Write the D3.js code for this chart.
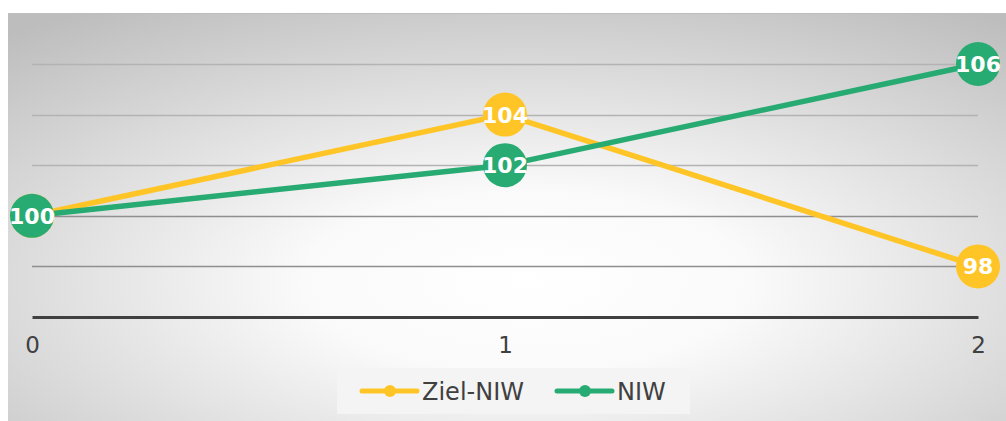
<!DOCTYPE html>
<html>
<head>
<meta charset="utf-8">
<script src="https://cdn.jsdelivr.net/npm/d3@7"></script>
<style>
  body { margin: 0; background: #fff; }
  svg { display: block; font-family: "DejaVu Sans", "Open Sans", sans-serif; }
</style>
</head>
<body>
<svg id="chart"></svg>
<script>
// chart data
var steps = [0, 1, 2];
var zielNiw = [100, 104, 98];
var niw = [100, 102, 106];
var gridValues = [98, 100, 102, 104, 106];
var seriesNames = ["Ziel-NIW", "NIW"];
var seriesColors = ["#ffc527", "#28ab72"];

var width = 1006,
    height = 421;

var svg = d3.select('#chart')
  .attr('width', width)
  .attr('height', height);

// background gradient (elliptical, white in the middle)
var defs = svg.append('defs');
var grad = defs.append('radialGradient')
  .attr('id', 'bg')
  .attr('cx', '52%').attr('cy', '66%')
  .attr('r', '80%');
grad.append('stop').attr('offset', '0%').attr('stop-color', '#ffffff');
grad.append('stop').attr('offset', '28%').attr('stop-color', '#fafafa');
grad.append('stop').attr('offset', '100%').attr('stop-color', '#bdbdbd');

svg.append('rect')
  .attr('x', 8).attr('y', 13)
  .attr('width', width - 8).attr('height', height - 13)
  .attr('fill', 'url(#bg)');
svg.append('line')
  .attr('x1', 8).attr('x2', width)
  .attr('y1', 13.5).attr('y2', 13.5)
  .attr('stroke', '#bdbdbd');

var x = d3.scaleLinear()
  .domain([0, 2])
  .range([32, 978]);

var y = d3.scaleLinear()
  .domain([96, 106])
  .range([317, 64]);

// gridlines
svg.append('g')
  .selectAll('line')
  .data(gridValues)
  .enter()
  .append('line')
    .attr('x1', x(0)).attr('x2', x(2))
    .attr('y1', d => Math.round(y(d)) + 0.5)
    .attr('y2', d => Math.round(y(d)) + 0.5)
    .attr('stroke', d => d <= 100 ? '#8f8f8f' : '#b3b3b3')
    .attr('stroke-width', 1.5);

// x axis
var xAxis = svg.append('g')
  .attr('transform', 'translate(0,' + y(96) + ')')
  .call(d3.axisBottom(x).tickValues(steps).tickFormat(d3.format('d')).tickSize(0).tickPadding(20));
xAxis.select('.domain')
  .attr('stroke', '#404040')
  .attr('stroke-width', 3);
xAxis.selectAll('text')
  .attr('fill', '#404040')
  .style('font-family', '"DejaVu Sans", sans-serif')
  .style('font-size', '23px');

var series = [zielNiw, niw];

var line = d3.line()
  .x((d, i) => x(steps[i]))
  .y(d => y(d));

series.forEach(function(vals, s) {
  svg.append('path')
    .datum(vals)
    .attr('d', line)
    .attr('fill', 'none')
    .attr('stroke', seriesColors[s])
    .attr('stroke-width', 5.5);
});

series.forEach(function(vals, s) {
  var g = svg.append('g');
  g.selectAll('circle')
    .data(vals)
    .enter()
    .append('circle')
      .attr('cx', (d, i) => x(steps[i]))
      .attr('cy', d => y(d))
      .attr('r', 22)
      .attr('fill', seriesColors[s]);
  g.selectAll('text')
    .data(vals)
    .enter()
    .append('text')
      .attr('x', (d, i) => x(steps[i]))
      .attr('y', d => y(d))
      .attr('dy', '0.36em')
      .attr('text-anchor', 'middle')
      .attr('fill', '#fff')
      .style('font-size', '22px')
      .style('font-weight', 'bold')
      .text(d => d);
});

// legend
var legend = svg.append('g');
legend.append('rect')
  .attr('x', 337).attr('y', 368)
  .attr('width', 353).attr('height', 46)
  .attr('fill', '#f4f4f4');

var legendX = [362, 557];
seriesNames.forEach(function(name, i) {
  var lg = legend.append('g').attr('transform', 'translate(' + legendX[i] + ',391)');
  lg.append('line')
    .attr('x1', 0).attr('x2', 55)
    .attr('stroke', seriesColors[i])
    .attr('stroke-width', 5)
    .attr('stroke-linecap', 'round');
  lg.append('circle')
    .attr('cx', 28).attr('r', 6)
    .attr('fill', seriesColors[i]);
  lg.append('text')
    .attr('x', 60)
    .attr('dy', '0.36em')
    .attr('fill', '#404040')
    .style('font-size', '24px')
    .text(name);
});
</script>
</body>
</html>
